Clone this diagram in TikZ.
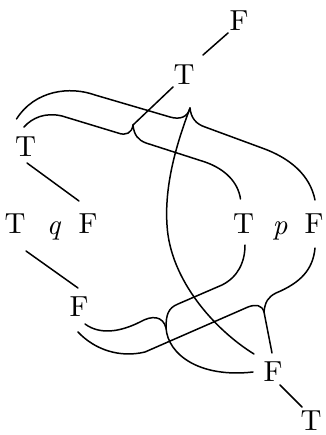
\documentclass[tikz,border=0pt]{standalone}
\usepackage{fontspec}
\newfontfamily\lmten{lmroman10-regular.otf}[ItalicFont=lmroman10-italic.otf]
\usetikzlibrary{calc}
\begin{document}
\begin{tikzpicture}[x=1pt,y=-1pt,
  lbl/.style={inner sep=0pt, font=\lmten\fontsize{29}{34}\selectfont},
  wire/.style={line width=1.5pt, line cap=round, line join=round}]
\useasboundingbox (0,0) rectangle (325,435);
% labels
\node[lbl] (Ftop) at (239,21) {F};
\node[lbl] (Ttop) at (184,75) {T};
\node[lbl] (Tl) at (25.5,147) {T};
\node[lbl] (Tq) at (15,224) {T};
\node[lbl,anchor=base] (q) at (53.5,234) {\itshape q};
\node[lbl] (Fq) at (88,224) {F};
\node[lbl] (Tp) at (243.5,224) {T};
\node[lbl,anchor=base] (p) at (280,234) {\itshape p};
\node[lbl] (Fp) at (314,224) {F};
\node[lbl] (Fm) at (79,307) {F};
\node[lbl] (Fb) at (273,372) {F};
\node[lbl] (Tb) at (311,421) {T};
% cusps of the braces
\coordinate (cA) at (190,108);
\coordinate (cB) at (133,125);
\coordinate (cC) at (166,328);
\coordinate (cD) at (264,312);
% straight links
\draw[wire] ($(Ftop)+(-11,12)$) -- ($(Ttop)+(19,-20)$);
\draw[wire] ($(Ttop)+(-11,12)$) -- (cB);
\draw[wire] ($(Tl)+(1.5,16)$) -- ($(Fq)+(-9,-23)$);
\draw[wire] ($(Tq)+(11,27)$) -- ($(Fm)+(-1,-19)$);
\draw[wire] ($(Fb)+(7,13)$) -- ($(Tb)+(-9,-14)$);
% brace A
\draw[wire] ($(Tl)+(-9,-28)$) .. controls (35,90) and (70,86) .. (95,95)
  -- (170,117) .. controls (180,120) and (188,117) .. (cA);
\draw[wire] (cA) .. controls (191,118) and (196,124) .. (205,127)
  -- (262,148) .. controls (290,158) and (310,175) .. ($(Fp)+(1,-24)$);
\draw[wire] (cA) .. controls (180,135) and (164,180) .. (167,225)
  .. controls (170,280) and (215,330) .. ($(Fb)+(-19,-18)$);
% brace B
\draw[wire] ($(Tl)+(-1.5,-20)$) .. controls (32,118) and (45,112) .. (62,116)
  -- (118,133) .. controls (126,136) and (132,133) .. (cB);
\draw[wire] (cB) .. controls (134,135) and (138,140) .. (146,143)
  -- (205,162) .. controls (225,169) and (238,182) .. ($(Tp)+(-3,-25)$);
% brace C
\draw[wire] ($(Fm)+(6,17)$) .. controls (100,335) and (120,332) .. (140,322)
  .. controls (152,315) and (163,316) .. (cC);
\draw[wire] (cC) .. controls (166,315) and (168,308) .. (178,304)
  -- (222,285) .. controls (238,277) and (245,262) .. ($(Tp)+(1.5,21)$);
\draw[wire] (cC) .. controls (168,355) and (200,378) .. ($(Fb)+(-20,0)$);
% brace D
\draw[wire] ($(Fm)+(-1,25)$) .. controls (95,350) and (120,358) .. (145,352)
  -- (248,307) .. controls (256,304) and (262,305) .. (cD);
\draw[wire] (cD) .. controls (265,302) and (268,297) .. (276,293)
  .. controls (300,283) and (313,270) .. ($(Fp)+(1,24)$);
\draw[wire] (cD) -- ($(Fb)+(-1,-19)$);
\end{tikzpicture}
\end{document}
